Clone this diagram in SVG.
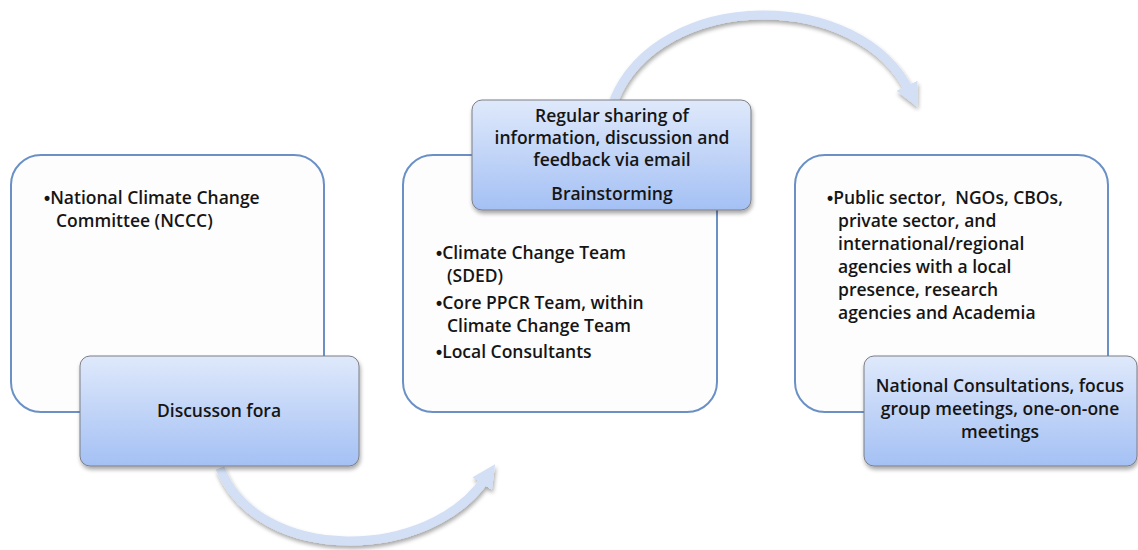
<svg xmlns="http://www.w3.org/2000/svg" width="1138" height="550" viewBox="0 0 1138 550">
  <defs>
    <linearGradient id="tabFill" x1="0" y1="0" x2="0" y2="1">
      <stop offset="0" stop-color="#dfe9fb"/>
      <stop offset="1" stop-color="#a4c0f4"/>
    </linearGradient>
    <filter id="shadow" x="-10%" y="-10%" width="125%" height="130%">
      <feGaussianBlur in="SourceAlpha" stdDeviation="2"/>
      <feOffset dx="1" dy="3" result="b"/>
      <feComponentTransfer><feFuncA type="linear" slope="0.35"/></feComponentTransfer>
      <feMerge><feMergeNode/><feMergeNode in="SourceGraphic"/></feMerge>
    </filter>
    <marker id="head" viewBox="0 0 10 10" refX="3" refY="5" markerWidth="2.6" markerHeight="2.6" orient="auto" markerUnits="strokeWidth">
      <path d="M0,0 L10,5 L0,10 z" fill="#d3dff5"/>
    </marker>
  </defs>
  <style>
    .panel { fill: #fdfdfe; stroke: #6a90c6; stroke-width: 2; }
    .tab { fill: url(#tabFill); stroke: #7d7f84; stroke-width: 1; filter: url(#shadow); }
    .txt { font-family: "Open Sans", Lato, "Liberation Sans", sans-serif; font-size: 17.5px; font-weight: 600; fill: #151515; white-space: pre; }
    .mid { text-anchor: middle; }
    .dot { font-family: "Liberation Sans", sans-serif; font-weight: 700; }
    .arc { fill: none; stroke: #d3dff5; stroke-width: 9; marker-end: url(#head); filter: url(#shadow); }
  </style>

  <rect width="1138" height="550" fill="#ffffff"/>

  <!-- connectors: curved arrows between the stages -->
  <g id="connectors">
    <path class="arc" d="M220,468 C258,565 430,562 486,478"/>
    <path class="arc" d="M614,100 C660,-12 860,-12 910,92"/>
  </g>

  <!-- stage 1 -->
  <g id="stage1">
    <rect class="panel" x="11" y="155" width="313" height="257" rx="30"/>
    <text class="txt" x="44" y="204"><tspan class="dot">•</tspan>National Climate Change</text>
    <text class="txt" x="56" y="227">Committee (NCCC)</text>
  </g>
  <g id="stage1-tab">
    <rect class="tab" x="80" y="356" width="279" height="110" rx="10"/>
    <text class="txt mid" x="219" y="417">Discusson fora</text>
  </g>

  <!-- stage 2 -->
  <g id="stage2">
    <rect class="panel" x="403" y="155" width="314" height="257" rx="30"/>
    <text class="txt" x="436" y="259"><tspan class="dot">•</tspan>Climate Change Team</text>
    <text class="txt" x="447" y="282">(SDED)</text>
    <text class="txt" x="436" y="309"><tspan class="dot">•</tspan>Core PPCR Team, within</text>
    <text class="txt" x="447" y="332">Climate Change Team</text>
    <text class="txt" x="436" y="358"><tspan class="dot">•</tspan>Local Consultants</text>
  </g>
  <g id="stage2-tab">
    <rect class="tab" x="472" y="100" width="279" height="110" rx="10"/>
    <text class="txt mid" x="612" y="122">Regular sharing of</text>
    <text class="txt mid" x="612" y="144">information, discussion and</text>
    <text class="txt mid" x="612" y="166">feedback via email</text>
    <text class="txt mid" x="612" y="200">Brainstorming</text>
  </g>

  <!-- stage 3 -->
  <g id="stage3">
    <rect class="panel" x="795" y="155" width="313" height="257" rx="30"/>
    <text class="txt" x="827" y="204"><tspan class="dot">•</tspan>Public sector,  NGOs, CBOs,</text>
    <text class="txt" x="838" y="227">private sector, and</text>
    <text class="txt" x="838" y="250">international/regional</text>
    <text class="txt" x="838" y="273">agencies with a local</text>
    <text class="txt" x="838" y="296">presence, research</text>
    <text class="txt" x="838" y="319">agencies and Academia</text>
  </g>
  <g id="stage3-tab">
    <rect class="tab" x="864" y="356" width="273" height="110" rx="10"/>
    <text class="txt mid" x="1000" y="392">National Consultations, focus</text>
    <text class="txt mid" x="1000" y="415">group meetings, one-on-one</text>
    <text class="txt mid" x="1000" y="438">meetings</text>
  </g>
</svg>
